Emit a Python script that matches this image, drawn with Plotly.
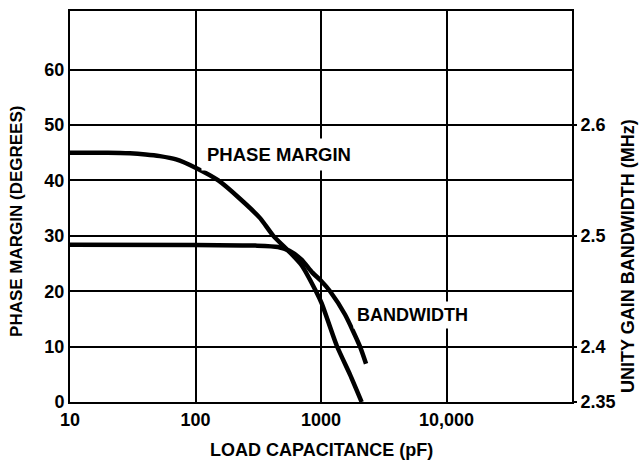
import plotly.graph_objects as go

# Data
cap_pm = [10, 20, 30, 40, 52, 70, 100, 152, 226, 327, 417, 566, 700, 912, 1013, 1333, 1700, 2109]
phase_margin = [45, 45, 44.9, 44.7, 44.4, 43.8, 42.3, 40, 36.7, 33.2, 30, 27, 24.7, 20, 17.8, 10.2, 5, 0]

cap_bw = [10, 100, 300, 454, 560, 700, 850, 1000, 1180, 1553, 2046, 2285]
bandwidth = [2.492, 2.4918, 2.4912, 2.490, 2.4865, 2.4785, 2.467, 2.4595, 2.45, 2.429, 2.40, 2.3845]

x_ticks = [10, 100, 1000, 10000]
x_ticktext = ["10", "100", "1000", "10,000"]
pm_ticks = [0, 10, 20, 30, 40, 50, 60]
bw_ticks = [2.35, 2.4, 2.5, 2.6]
bw_ticktext = ["2.35", "2.4", "2.5", "2.6"]

FONT = "Liberation Sans, Arial, Helvetica, sans-serif"

fig = go.Figure()
fig.add_trace(go.Scatter(x=cap_pm, y=phase_margin, mode="lines",
                         line=dict(color="black", width=4.5, shape="spline", smoothing=0.6),
                         name="PHASE MARGIN", yaxis="y"))
fig.add_trace(go.Scatter(x=cap_bw, y=bandwidth, mode="lines",
                         line=dict(color="black", width=4.5, shape="spline", smoothing=0.6),
                         name="BANDWIDTH", yaxis="y2"))

fig.update_layout(
    width=639, height=461,
    margin=dict(l=70, r=67, t=11, b=59, autoexpand=False),
    paper_bgcolor="white", plot_bgcolor="white",
    showlegend=False,
    font=dict(family=FONT, color="black", size=18, weight="bold"),
    xaxis=dict(type="log", range=[1, 5], tickvals=x_ticks, ticktext=x_ticktext,
               showgrid=True, gridcolor="black", gridwidth=1.5,
               showline=True, linecolor="black", linewidth=2, mirror=True,
               ticks="", tickfont=dict(size=18, weight="bold"), zeroline=False,
               automargin=False),
    yaxis=dict(range=[0, 70.6], tickvals=pm_ticks,
               showgrid=True, gridcolor="black", gridwidth=1.5,
               showline=True, linecolor="black", linewidth=2, mirror=True,
               ticks="", tickfont=dict(size=18, weight="bold"), zeroline=False,
               automargin=False),
    yaxis2=dict(range=[2.35, 2.35 + 70.6 * 0.005], overlaying="y", side="right",
                tickvals=bw_ticks, ticktext=bw_ticktext, showgrid=False,
                ticks="outside", ticklen=4, tickwidth=1.5, tickcolor="black",
                tickfont=dict(size=18, weight="bold"), zeroline=False, showline=False,
                automargin=False),
)

fig.add_annotation(x=2.665, y=44.6, xref="x", yref="y", text="PHASE MARGIN",
                   showarrow=False, bgcolor="white", borderpad=5,
                   font=dict(size=18.5, weight="bold", family=FONT, color="black"))
fig.add_annotation(x=3.728, y=15.7, xref="x", yref="y", text="BANDWIDTH",
                   showarrow=False, bgcolor="white", borderpad=3,
                   font=dict(size=18, weight="bold", family=FONT, color="black"))

fig.add_annotation(x=-0.1056, y=0.463, xref="paper", yref="paper",
                   text="PHASE MARGIN (DEGREES)", textangle=-90, showarrow=False,
                   xanchor="center", yanchor="middle",
                   font=dict(size=17, weight="bold", family=FONT, color="black"))
fig.add_annotation(x=1.111, y=0.373, xref="paper", yref="paper",
                   text="UNITY GAIN BANDWIDTH (MHz)", textangle=-90, showarrow=False,
                   xanchor="center", yanchor="middle",
                   font=dict(size=18, weight="bold", family=FONT, color="black"))
fig.add_annotation(x=0.5, y=-0.123, xref="paper", yref="paper",
                   text="LOAD CAPACITANCE (pF)", showarrow=False,
                   xanchor="center", yanchor="middle",
                   font=dict(size=18, weight="bold", family=FONT, color="black"))

fig.write_html("out.html", config={"displayModeBar": False},
               post_script="document.body.style.margin='0';document.body.style.padding='0';document.documentElement.style.overflow='hidden';")
